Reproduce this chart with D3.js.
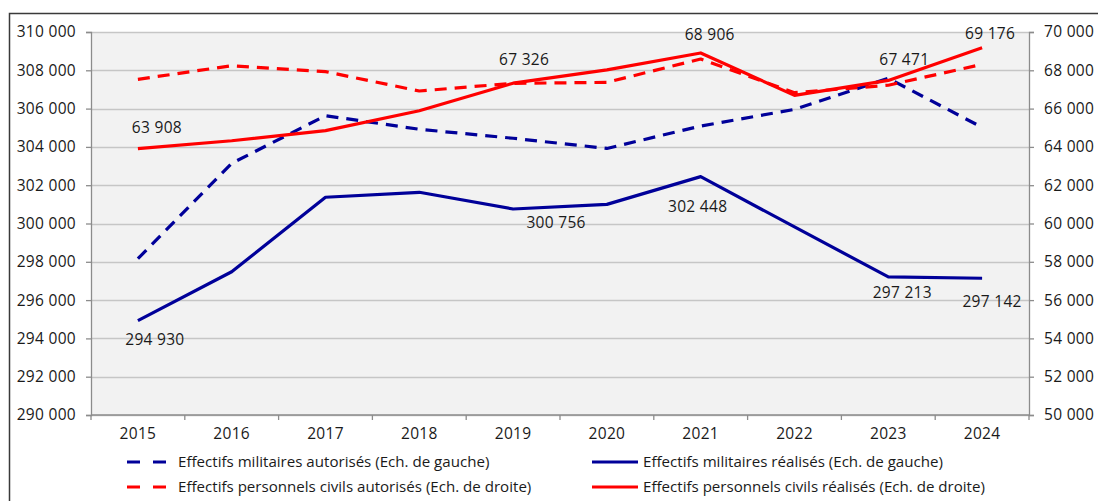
<!DOCTYPE html>
<html>
<head>
<meta charset="utf-8">
<script src="https://cdn.jsdelivr.net/npm/d3@7"></script>
<style>
  html, body { margin: 0; padding: 0; background: #fff; }
  svg { display: block; font-family: "Open Sans", "Noto Sans", sans-serif; }
</style>
</head>
<body>
<svg id="chart" width="1098" height="501"></svg>
<script>
const years = ["2015","2016","2017","2018","2019","2020","2021","2022","2023","2024"];
const militairesAutorises = [298160, 303140, 305630, 304920, 304450, 303920, 305090, 305960, 307580, 305020];
const militairesRealises  = [294930, 297480, 301370, 301630, 300756, 301000, 302448, 299820, 297213, 297142];
const civilsAutorises     = [67530, 68240, 67930, 66920, 67320, 67370, 68590, 66830, 67220, 68310];
const civilsRealises      = [63908, 64320, 64850, 65890, 67326, 68020, 68906, 66690, 67471, 69176];
const leftTicks  = [290000, 292000, 294000, 296000, 298000, 300000, 302000, 304000, 306000, 308000, 310000];
const rightTicks = [50000, 52000, 54000, 56000, 58000, 60000, 62000, 64000, 66000, 68000, 70000];
const legendLabels = [
  "Effectifs militaires autorisés (Ech. de gauche)",
  "Effectifs militaires réalisés (Ech. de gauche)",
  "Effectifs personnels civils autorisés (Ech. de droite)",
  "Effectifs personnels civils réalisés (Ech. de droite)"
];
// indices of labelled years
const labelledMilitaires = [0, 4, 6, 8, 9];
const labelledCivils = [0, 4, 6, 8, 9];

const fmt = v => d3.format(",")(v).replace(/,/g, "\u00A0");

const svg = d3.select("#chart");
const plot = {left: 91, right: 1029, top: 32, bottom: 415};
const NAVY = "#000099", RED = "#ff0000";

// outer frame
svg.append("rect").attr("x", 9.5).attr("y", 13.5).attr("width", 1200).attr("height", 600)
  .attr("fill", "none").attr("stroke", "#3a3a3a").attr("stroke-width", 1.5);

const x = d3.scaleBand().domain(years).range([plot.left, plot.right]).paddingInner(0).paddingOuter(0);
const yL = d3.scaleLinear().domain([290000, 310000]).range([plot.bottom, plot.top]);
const yR = d3.scaleLinear().domain([50000, 70000]).range([plot.bottom, plot.top]);
const cx = d => x(d) + x.bandwidth() / 2;

// plot background
svg.append("rect").attr("x", plot.left).attr("y", plot.top)
  .attr("width", plot.right - plot.left).attr("height", plot.bottom - plot.top)
  .attr("fill", "#f2f2f2");

// gridlines
svg.append("g").selectAll("line").data(leftTicks).join("line")
  .attr("x1", plot.left).attr("x2", plot.right)
  .attr("y1", d => Math.round(yL(d)) + 0.5).attr("y2", d => Math.round(yL(d)) + 0.5)
  .attr("stroke", "#c6c6c6").attr("stroke-width", 1.3);

// axes
const axisColor = "#8c8c8c";
const gL = svg.append("g").attr("transform", `translate(${plot.left},0)`)
  .call(d3.axisLeft(yL).tickValues(leftTicks).tickFormat(fmt).tickSize(5).tickPadding(10));
const gR = svg.append("g").attr("transform", `translate(${plot.right},0)`)
  .call(d3.axisRight(yR).tickValues(rightTicks).tickFormat(fmt).tickSize(5).tickPadding(10));
const gX = svg.append("g").attr("transform", `translate(0,${plot.bottom})`)
  .call(d3.axisBottom(x).tickSize(0).tickPadding(13));
gX.selectAll(".tick").append("line").attr("x1", -x.bandwidth()/2).attr("x2", -x.bandwidth()/2).attr("y2", 5);
gX.append("line").attr("x1", plot.right).attr("x2", plot.right).attr("y2", 5);
[gL, gR, gX].forEach(g => {
  g.selectAll("path.domain").attr("stroke", axisColor).attr("stroke-width", 1.3);
  g.selectAll("line").attr("stroke", axisColor).attr("stroke-width", 1.3);
  g.selectAll("text").attr("fill", "#1a1a1a").style("font-size", "15.5px")
    .style("font-family", "'Open Sans', sans-serif").style("letter-spacing", "0.3px");
});
gX.select("path.domain").attr("d", `M${plot.left},0H${plot.right}`);

// lines
const series = [
  {vals: militairesAutorises, y: yL, color: NAVY, dash: "12,8"},
  {vals: civilsAutorises, y: yR, color: RED, dash: "12,8"},
  {vals: militairesRealises, y: yL, color: NAVY, dash: null},
  {vals: civilsRealises, y: yR, color: RED, dash: null}
];
series.forEach(s => {
  const line = d3.line().x((d, i) => cx(years[i])).y(d => s.y(d));
  svg.append("path").datum(s.vals).attr("d", line)
    .attr("fill", "none").attr("stroke", s.color).attr("stroke-width", 3.2)
    .attr("stroke-linejoin", "round")
    .attr("stroke-dasharray", s.dash);
});

// data labels
const labelStyle = sel => sel.attr("text-anchor", "middle").attr("fill", "#1a1a1a")
  .style("font-size", "15.5px").style("letter-spacing", "0.3px");
const milOff = [[17, 19], [43, 14], [-3, 30], [14, 16], [10, 23]];
const civOff = [[19, -21], [11, -24], [9, -18], [16, -21], [8, -14]];
labelledMilitaires.forEach((i, k) => {
  svg.append("text").attr("x", cx(years[i]) + milOff[k][0]).attr("y", yL(militairesRealises[i]) + milOff[k][1])
    .attr("dy", "0.35em").text(fmt(militairesRealises[i])).call(labelStyle);
});
labelledCivils.forEach((i, k) => {
  svg.append("text").attr("x", cx(years[i]) + civOff[k][0]).attr("y", yR(civilsRealises[i]) + civOff[k][1])
    .attr("dy", "0.35em").text(fmt(civilsRealises[i])).call(labelStyle);
});

// legend
const legendItems = [
  {label: legendLabels[0], color: NAVY, dash: true,  x: 127, y: 462},
  {label: legendLabels[1], color: NAVY, dash: false, x: 592, y: 462},
  {label: legendLabels[2], color: RED,  dash: true,  x: 127, y: 487},
  {label: legendLabels[3], color: RED,  dash: false, x: 592, y: 487}
];
legendItems.forEach(it => {
  const g = svg.append("g");
  if (it.dash) {
    g.append("line").attr("x1", it.x).attr("x2", it.x + 39).attr("y1", it.y).attr("y2", it.y)
      .attr("stroke", it.color).attr("stroke-width", 3.2).attr("stroke-dasharray", "13,13");
    g.append("text").attr("x", it.x + 51).attr("y", it.y).attr("dy", "0.35em")
      .attr("fill", "#1a1a1a").style("font-size", "15.1px").text(it.label);
  } else {
    g.append("line").attr("x1", it.x).attr("x2", it.x + 46).attr("y1", it.y).attr("y2", it.y)
      .attr("stroke", it.color).attr("stroke-width", 3.2);
    g.append("text").attr("x", it.x + 51).attr("y", it.y).attr("dy", "0.35em")
      .attr("fill", "#1a1a1a").style("font-size", "15.1px").text(it.label);
  }
});
</script>
</body>
</html>
